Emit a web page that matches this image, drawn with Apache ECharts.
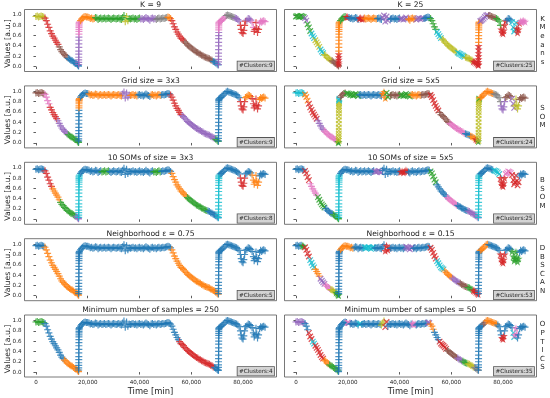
<!DOCTYPE html>
<html><head><meta charset="utf-8">
<script src="https://cdn.jsdelivr.net/npm/echarts@6/dist/echarts.min.js"></script>
<style>html,body{margin:0;padding:0;background:#fff}#c{width:550px;height:398px}</style>
</head><body><div id="c"></div>
<script>
// ---- shared time series ----
const TIME = [0,500,1000,1500,2000,2500,3000,
3500,4000,4500,5000,5500,6000,6500,7000,7500,8000,8500,9000,9500,10000,10500,11000,11500,12000,12500,13000,13500,14000,14500,15000,15500,16000,16300,16450,
16500,16510,16520,16530,16540,16550,16560,16570,16580,16590,16600,16610,16620,16630,16640,16650,16660,
16800,17200,17600,18000,18500,19000,19500,
20000,20500,21000,21500,22000,22500,23000,23500,24000,24500,25000,25500,26000,26500,27000,27500,28000,28500,29000,29500,30000,30500,31000,31500,32000,32500,33000,33500,34000,34500,35000,35500,36000,36500,37000,37500,38000,38500,39000,39500,40000,40500,41000,41500,42000,42500,43000,43500,44000,44500,45000,45500,46000,46500,47000,47500,48000,48500,49000,49500,50000,50500,51000,51500,
52000,52500,53000,53500,54000,54500,55000,55500,56000,56500,57000,57500,58000,58500,59000,59500,60000,60500,61000,61500,62000,62500,63000,63500,64000,64500,65000,65500,66000,66500,67000,67500,68000,68500,69000,69500,70000,70400,
70500,70510,70520,70530,70540,70550,70560,70570,70580,70590,70600,70610,70620,70630,70640,70650,
70800,71200,71600,72000,72500,73000,73500,74000,74500,75000,75500,76000,76500,77000,77500,78000,78500,79000,79300,79600,80000,80300,80600,81000,81500,82000,82500,83000,83500,84000,84300,84600,85000,85300,85600,86000,86400,86800,87200,87600,88000,88500];
const VALUE = [0.97,0.98,0.96,0.97,0.98,0.97,0.96,
0.94,0.89,0.82,0.76,0.69,0.64,0.59,0.55,0.51,0.47,0.43,0.38,0.33,0.29,0.26,0.23,0.21,0.18,0.16,0.14,0.12,0.11,0.09,0.07,0.06,0.04,0.02,0.01,
0.04,0.08,0.13,0.18,0.24,0.30,0.37,0.44,0.51,0.57,0.63,0.68,0.72,0.76,0.79,0.82,0.84,
0.86,0.89,0.92,0.94,0.96,0.97,0.96,
0.96,0.95,0.93,0.94,0.92,0.93,0.95,0.94,0.91,0.93,0.94,0.92,0.93,0.94,0.92,0.93,0.94,0.93,0.91,0.93,0.94,0.93,0.92,0.93,0.94,0.92,0.91,0.95,0.99,0.87,0.97,0.89,0.93,0.92,0.93,0.94,0.92,0.93,0.91,0.93,0.94,0.92,0.93,0.91,0.93,0.95,0.93,0.92,0.90,0.93,0.94,0.92,0.93,0.91,0.93,0.94,0.92,0.93,0.94,0.93,0.94,0.95,0.96,0.95,
0.93,0.89,0.83,0.77,0.72,0.67,0.63,0.59,0.55,0.53,0.51,0.48,0.45,0.42,0.40,0.38,0.36,0.34,0.32,0.30,0.28,0.27,0.25,0.24,0.22,0.21,0.19,0.18,0.17,0.16,0.15,0.13,0.12,0.10,0.09,0.07,0.05,0.03,
0.04,0.09,0.14,0.20,0.26,0.33,0.40,0.47,0.54,0.60,0.66,0.71,0.75,0.79,0.82,0.84,
0.86,0.88,0.89,0.91,0.93,0.96,0.99,1.00,0.99,0.98,0.97,0.96,0.95,0.94,0.93,0.91,0.88,0.80,0.72,0.66,0.64,0.70,0.80,0.88,0.90,0.93,0.92,0.90,0.86,0.76,0.68,0.72,0.85,0.74,0.66,0.72,0.84,0.88,0.86,0.88,0.89,0.87];

// ---- cluster segments per panel: [end time, colour index, marker] ----
const SEG_KMEANS_9 = [[3200,8,'+'],[8500,3,'+'],[12000,5,'+'],[16490,0,'+'],[16590,4,'+'],[16800,6,'+'],[22500,1,'+'],[34000,2,'+'],[35500,8,'+'],[40000,2,'+'],[46000,4,'+'],[50500,7,'+'],[52000,1,'+'],[57000,3,'+'],[68000,5,'+'],[70450,0,'+'],[70600,4,'+'],[73000,6,'+'],[76500,7,'+'],[78500,4,'+'],[81000,3,'+'],[83000,4,'+'],[84000,6,'+'],[86000,3,'+'],[88600,6,'+']];
const SEG_KMEANS_25 = [[3000,2,'x'],[4000,4,'x'],[5500,2,'x'],[7000,9,'x'],[9000,8,'x'],[10500,9,'x'],[13500,8,'+'],[16450,5,'+'],[16540,3,'*'],[16800,1,'+'],[19000,2,'+'],[20000,3,'*'],[24000,0,'+'],[26000,3,'*'],[31000,1,'+'],[33000,0,'+'],[36000,4,'x'],[40000,0,'+'],[43000,4,'x'],[46000,1,'+'],[49000,4,'x'],[51500,0,'+'],[54000,2,'+'],[56000,9,'x'],[62000,8,'+'],[65000,9,'x'],[68000,8,'+'],[70560,3,'*'],[70800,1,'+'],[74000,4,'x'],[77000,5,'+'],[79000,2,'+'],[81000,3,'*'],[83000,0,'+'],[85000,9,'x'],[86500,3,'*'],[88600,6,'*']];
const SEG_SOM_3 = [[3000,5,'+'],[5000,6,'+'],[8000,3,'+'],[12000,4,'+'],[16450,2,'+'],[16600,0,'+'],[16800,1,'+'],[20000,0,'+'],[33000,1,'+'],[36000,4,'+'],[39000,1,'+'],[44000,0,'+'],[48000,1,'+'],[51500,0,'+'],[56000,3,'+'],[69000,4,'+'],[70450,2,'+'],[78500,0,'+'],[80800,3,'+'],[83000,1,'+'],[86000,3,'+'],[88600,1,'+']];
const SEG_SOM_5 = [[3000,9,'+'],[4500,1,'x'],[8000,3,'x'],[10500,4,'+'],[16200,6,'+'],[16450,2,'*'],[16640,8,'x'],[16800,9,'x'],[19000,5,'+'],[24000,2,'x'],[33000,0,'+'],[34500,1,'*'],[36000,2,'x'],[40000,5,'+'],[44000,2,'x'],[48000,1,'+'],[51500,5,'+'],[55000,3,'x'],[59000,5,'+'],[65000,6,'+'],[67000,0,'+'],[69000,1,'+'],[70000,3,'*'],[70450,2,'*'],[70660,8,'x'],[70800,2,'x'],[76000,1,'+'],[79000,7,'+'],[80700,4,'+'],[83000,5,'+'],[84500,4,'x'],[86000,8,'+'],[88600,5,'+']];
const SEG_BSOM_3 = [[3000,0,'+'],[6000,3,'+'],[9000,1,'+'],[15000,2,'+'],[16450,4,'+'],[16800,9,'+'],[25000,0,'+'],[28000,2,'+'],[45000,0,'+'],[48000,2,'+'],[52000,0,'+'],[58000,1,'+'],[66000,2,'+'],[70450,0,'+'],[70800,9,'+'],[78500,0,'+'],[80800,3,'+'],[83000,0,'+'],[86000,1,'+'],[88600,0,'+']];
const SEG_BSOM_5 = [[3000,0,'+'],[5000,3,'x'],[8000,6,'+'],[11000,2,'x'],[14000,0,'+'],[16450,2,'+'],[16800,9,'+'],[30000,0,'+'],[33000,4,'x'],[40000,0,'+'],[43000,3,'*'],[51500,0,'+'],[54000,2,'x'],[58000,0,'+'],[62000,6,'+'],[66000,0,'+'],[70450,4,'+'],[70800,9,'+'],[76000,0,'+'],[78500,9,'x'],[80800,3,'*'],[83000,6,'x'],[86000,3,'x'],[88600,0,'+']];
const SEG_DBSCAN_075 = [[3000,0,'+'],[16450,1,'+'],[52000,0,'+'],[70450,1,'+'],[88600,0,'+']];
const SEG_DBSCAN_015 = [[2000,0,'+'],[3000,2,'*'],[5000,3,'x'],[7000,9,'x'],[9000,1,'+'],[11000,4,'x'],[13000,6,'+'],[15000,8,'+'],[16450,2,'*'],[16800,0,'+'],[22000,1,'+'],[26000,0,'+'],[30000,9,'x'],[34000,0,'+'],[36000,3,'*'],[42000,0,'+'],[45000,4,'x'],[51500,0,'+'],[54000,3,'x'],[57000,9,'x'],[60000,1,'+'],[63000,4,'+'],[66000,5,'+'],[68000,2,'+'],[70450,3,'*'],[70800,0,'+'],[74000,1,'+'],[78500,0,'+'],[80800,3,'*'],[83000,0,'+'],[86000,2,'*'],[88600,0,'+']];
const SEG_OPTICS_250 = [[3000,2,'+'],[10500,0,'+'],[16450,1,'+'],[55000,0,'+'],[68500,3,'+'],[88600,0,'+']];
const SEG_OPTICS_50 = [[3000,4,'+'],[4500,0,'+'],[6000,3,'x'],[7000,9,'x'],[10500,3,'x'],[12500,1,'+'],[16300,2,'+'],[19500,0,'+'],[20500,6,'x'],[24000,0,'+'],[25000,9,'x'],[32500,0,'+'],[34000,8,'+'],[35000,3,'x'],[44500,0,'+'],[46000,6,'*'],[50500,0,'+'],[51500,4,'x'],[53000,1,'+'],[55000,0,'+'],[58000,3,'x'],[62000,5,'+'],[64000,4,'+'],[66000,2,'+'],[68500,8,'+'],[70450,7,'+'],[72000,0,'+'],[73000,5,'+'],[77500,1,'+'],[79500,0,'+'],[80500,3,'*'],[83500,0,'+'],[84500,9,'x'],[85500,6,'*'],[88600,0,'+']];

const PANEL_SEGS = [[SEG_KMEANS_9,SEG_KMEANS_25],[SEG_SOM_3,SEG_SOM_5],[SEG_BSOM_3,SEG_BSOM_5],[SEG_DBSCAN_075,SEG_DBSCAN_015],[SEG_OPTICS_250,SEG_OPTICS_50]];
const TITLES = [['K = 9','K = 25'],['Grid size = 3x3','Grid size = 5x5'],['10 SOMs of size = 3x3','10 SOMs of size = 5x5'],['Neighborhood \u03b5 = 0.75','Neighborhood \u03b5 = 0.15'],['Minimum number of samples = 250','Minimum number of samples = 50']];
const N_CLUSTERS = [[9,25],[9,24],[8,25],[5,53],[4,35]];
const ROW_LABELS = ['KMeans','SOM','BSOM','DBSCAN','OPTICS'];
const X_TICKS = [0,20000,40000,60000,80000];
const Y_TICKS = [0,0.2,0.4,0.6,0.8,1.0];
const X_LABEL = 'Time [min]';
const Y_LABEL = 'Values [a.u.]';

// ---- layout ----
const COLORS = ['#1f77b4','#ff7f0e','#2ca02c','#d62728','#9467bd','#8c564b','#e377c2','#7f7f7f','#bcbd22','#17becf'];
const FONT = 'DejaVu Sans';
const COL_LEFT = [24.5, 284.5], PW = 252;
const ROW_TOP = [9.5, 85.9, 162.3, 238.7, 315], PH = 62;
const XMIN = -4425, XMAX = 92925, YMIN = -0.096, YMAX = 1.106;
const SYM = {
  '+': 'path://M5,0L5,10M0,5L10,5',
  'x': 'path://M0,0L10,10M10,0L0,10',
  '*': 'path://M5,0L6.2,3.6L10,3.6L6.9,5.9L8.1,9.5L5,7.3L1.9,9.5L3.1,5.9L0,3.6L3.8,3.6Z'
};

const grids=[], xAxes=[], yAxes=[], series=[], graphics=[];
for (let r=0;r<5;r++) for (let c=0;c<2;c++) {
  const i = r*2+c;
  const L = COL_LEFT[c], T = ROW_TOP[r];
  grids.push({left:L, top:T, width:PW, height:PH, show:true, borderColor:'#555', borderWidth:0.8, backgroundColor:'transparent'});
  xAxes.push({gridIndex:i, type:'value', min:XMIN, max:XMAX,
    axisLine:{show:false}, splitLine:{show:false},
    axisTick:{show:true, customValues:X_TICKS, length:2.5, lineStyle:{color:'#333', width:0.8}},
    axisLabel:{show:r===4, customValues:X_TICKS, formatter:v=>Number(v).toLocaleString('en-US'), fontSize:5.6, color:'#222', margin:3, fontFamily:FONT}});
  yAxes.push({gridIndex:i, type:'value', min:YMIN, max:YMAX,
    axisLine:{show:false}, splitLine:{show:false},
    axisTick:{show:true, customValues:Y_TICKS, length:2.5, lineStyle:{color:'#333', width:0.8}},
    axisLabel:{show:c===0, customValues:Y_TICKS, formatter:v=>Number(v).toFixed(1), fontSize:5.6, color:'#222', margin:3, fontFamily:FONT}});
  const segs = PANEL_SEGS[r][c];
  let start = -Infinity;
  segs.forEach(([end,ci,mk])=>{
    const data=[];
    for (let k=0;k<TIME.length;k++) if (TIME[k]>start && TIME[k]<=end) data.push([TIME[k],VALUE[k]]);
    start = end;
    const col = COLORS[ci];
    const filled = mk==='*';
    series.push({type:'scatter', xAxisIndex:i, yAxisIndex:i, data, symbol:SYM[mk],
      symbolSize: filled?8:(mk==='x'?5.5:7), silent:true, animation:false,
      itemStyle: filled?{color:col, borderWidth:0}:{color:col, borderColor:col, borderWidth:1.2}});
  });
  graphics.push({type:'text', x:L+PW/2, y:T-4.5, z:100, style:{text:TITLES[r][c], align:'center', verticalAlign:'middle', font:'7.6px '+FONT, fill:'#222'}});
  graphics.push({type:'text', x:L+PW-2.5, y:T+PH-1.5, z:100, style:{text:'#Clusters:'+N_CLUSTERS[r][c], align:'right', verticalAlign:'bottom', font:'5.7px '+FONT, fill:'#222', backgroundColor:'#d4d4d4', borderColor:'#555', borderWidth:0.8, padding:[1.5,1.5,1,1.5]}});
  if (c===0) graphics.push({type:'text', x:8, y:T+PH/2+3, rotation:Math.PI/2, z:100, style:{text:Y_LABEL, align:'center', verticalAlign:'middle', font:'7.8px '+FONT, fill:'#222'}});
}
ROW_LABELS.forEach((lab,r)=>{
  graphics.push({type:'text', x:542.5, y:ROW_TOP[r]+PH/2, z:100, style:{text:lab.split('').join('\n'), align:'center', verticalAlign:'middle', font:'7px '+FONT, lineHeight:8.6, fill:'#222'}});
});
[0,1].forEach(c=>graphics.push({type:'text', x:COL_LEFT[c]+PW/2, y:391.5, z:100, style:{text:X_LABEL, align:'center', verticalAlign:'middle', font:'8.4px '+FONT, fill:'#222'}}));

const chart = echarts.init(document.getElementById('c'), null, {renderer:'canvas'});
chart.setOption({animation:false, grid:grids, xAxis:xAxes, yAxis:yAxes, series, graphic:graphics});
</script></body></html>
